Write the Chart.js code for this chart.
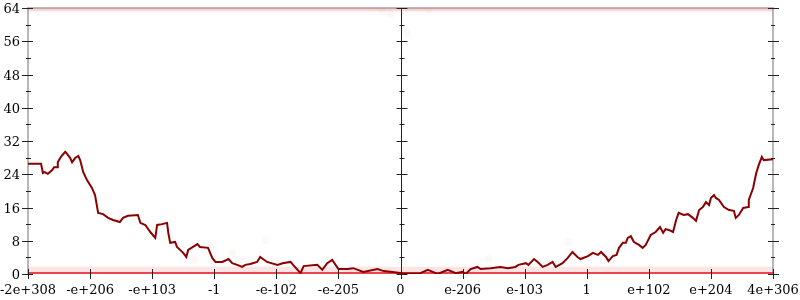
<!DOCTYPE html>
<html>
<head>
<meta charset="utf-8">
<script src="https://cdn.jsdelivr.net/npm/chart.js@4.4.1/dist/chart.umd.min.js"></script>
<style>
  html, body { margin: 0; padding: 0; background: #fff; }
  #wrap { width: 800px; height: 300px; }
</style>
</head>
<body>
<div id="wrap"><canvas id="chart"></canvas></div>
<script>
// tick labels on the x axis (one per unit, -6 .. 6)
const xLabels = ['-2e+308', '-e+206', '-e+103', '-1', '-e-102', '-e-205', '0',
  'e-206', 'e-103', '1', 'e+102', 'e+204', '4e+306']

// main curve, x in axis units, y in value units
const curveX = [-6.00, -5.79, -5.76, -5.73, -5.68, -5.61, -5.58, -5.53, -5.52, -5.47,
  -5.40, -5.37, -5.32, -5.29, -5.24, -5.19, -5.16, -5.11, -5.05, -4.97,
  -4.92, -4.87, -4.79, -4.71, -4.63, -4.52, -4.47, -4.39, -4.23, -4.19,
  -4.11, -4.03, -3.95, -3.92, -3.84, -3.76, -3.74, -3.71, -3.63, -3.60,
  -3.55, -3.50, -3.45, -3.42, -3.27, -3.23, -3.10, -3.03, -2.98, -2.87,
  -2.77, -2.71, -2.63, -2.55, -2.50, -2.42, -2.31, -2.26, -2.15, -1.98,
  -1.90, -1.77, -1.73, -1.61, -1.56, -1.34, -1.26, -1.18, -1.10, -1.00,
  -0.85, -0.76, -0.60, -0.37, -0.27, -0.13, 0.03, 0.16, 0.32, 0.44,
  0.52, 0.60, 0.76, 0.89, 1.00, 1.05, 1.13, 1.24, 1.29, 1.45,
  1.61, 1.73, 1.85, 1.90, 2.02, 2.06, 2.15, 2.21, 2.29, 2.37,
  2.45, 2.50, 2.61, 2.69, 2.77, 2.85, 2.90, 3.02, 3.10, 3.18,
  3.23, 3.31, 3.35, 3.42, 3.48, 3.52, 3.58, 3.63, 3.66, 3.71,
  3.76, 3.84, 3.90, 3.95, 4.03, 4.11, 4.18, 4.23, 4.27, 4.32,
  4.39, 4.44, 4.48, 4.56, 4.63, 4.71, 4.76, 4.81, 4.87, 4.92,
  4.97, 5.00, 5.05, 5.08, 5.13, 5.21, 5.29, 5.37, 5.40, 5.45,
  5.52, 5.60, 5.61, 5.68, 5.73, 5.77, 5.82, 5.85, 6.00]
const curveY = [26.5, 26.5, 24.3, 24.5, 24.1, 25.0, 25.7, 25.7, 26.9, 28.2,
  29.4, 28.9, 27.9, 26.9, 27.9, 28.4, 27.4, 24.5, 22.6, 20.7,
  19.0, 14.7, 14.4, 13.5, 13.0, 12.5, 13.5, 14.0, 14.2, 12.3,
  11.8, 10.1, 8.7, 11.8, 12.0, 12.3, 9.9, 7.5, 7.7, 6.5,
  5.8, 5.1, 4.1, 5.8, 7.2, 6.5, 6.3, 3.8, 2.9, 2.9,
  3.6, 2.6, 2.2, 1.7, 2.2, 2.4, 2.9, 4.1, 2.9, 2.2,
  2.6, 2.9, 2.2, 0.2, 1.9, 2.2, 1.0, 2.6, 3.4, 1.2,
  1.2, 1.4, 0.5, 1.2, 0.7, 0.5, 0.2, 0.1, 0.2, 1.0,
  0.5, 0.0, 1.0, 0.2, 0.5, 0.0, 1.2, 1.7, 1.2, 1.4,
  1.7, 1.4, 1.7, 2.2, 2.6, 2.2, 3.6, 2.9, 1.7, 2.2,
  2.9, 1.7, 2.6, 3.8, 5.3, 4.1, 3.6, 4.3, 5.1, 4.6,
  5.3, 4.1, 3.1, 4.3, 4.6, 6.3, 7.5, 7.5, 8.7, 9.1,
  7.7, 7.0, 6.3, 7.0, 9.4, 10.1, 11.3, 9.9, 10.8, 10.6,
  10.1, 13.0, 14.7, 14.2, 14.4, 13.5, 12.8, 15.4, 16.1, 17.3,
  16.6, 18.3, 19.0, 18.3, 17.8, 16.1, 15.4, 15.2, 13.5, 14.2,
  15.9, 16.1, 17.8, 20.7, 24.3, 26.2, 28.2, 27.4, 27.6]

// faint scattered samples away from the two bands
const strayX = [-3.32, -2.71, -2.55, -2.18, -0.29, -0.16, 0.11, 0.45, 1.42, 2.70]
const strayY = [3.4, 5.1, 3.4, 8.1, 63.2, 62.5, 58.0, 63.5, 3.6, 7.7]

// band levels along the bottom and the top
const lowBand = 0.9
const floorBand = 0.1
const topBand = 63.6

const pts = (xs, ys) => xs.map((x, i) => ({ x: x, y: ys[i] }))
const flat = (y) => [{ x: -6, y: y }, { x: 6, y: y }]

const axesPlugin = {
  id: 'axes',
  beforeDatasetsDraw(chart) {
    const { ctx, chartArea: a, scales: { x } } = chart
    const mid = Math.round(x.getPixelForValue(0)) + 0.5
    ctx.save()
    ctx.strokeStyle = '#b8b8b8'
    ctx.lineWidth = 2
    ctx.beginPath()
    ctx.moveTo(a.left, a.bottom)
    ctx.lineTo(a.left, a.top)
    ctx.lineTo(a.right, a.top)
    ctx.lineTo(a.right, a.bottom)
    ctx.stroke()
    ctx.strokeStyle = '#222'
    ctx.lineWidth = 1
    ctx.beginPath()
    ctx.moveTo(mid, a.top)
    ctx.lineTo(mid, a.bottom)
    ctx.stroke()
    ctx.restore()
  },
  afterDraw(chart) {
    const { ctx, chartArea: a, scales: { x, y } } = chart
    const mid = Math.round(x.getPixelForValue(0)) + 0.5
    ctx.save()
    ctx.strokeStyle = '#222'
    ctx.lineWidth = 1
    ctx.beginPath()
    for (let v = 0; v <= 64; v += 4) {
      const py = Math.round(y.getPixelForValue(v)) + 0.5
      const major = v % 8 === 0
      // left axis
      ctx.moveTo(a.left - (major ? 6 : 2), py)
      ctx.lineTo(a.left + (major ? 5 : 3), py)
      // middle axis
      ctx.moveTo(mid - (major ? 5 : 2), py)
      ctx.lineTo(mid + (major ? 6 : 3), py)
      // right axis
      ctx.moveTo(a.right - (major ? 5 : 2), py)
      ctx.lineTo(a.right + (major ? 6 : 2), py)
    }
    for (let v = -6; v <= 6; v++) {
      const px = Math.round(x.getPixelForValue(v)) + 0.5
      ctx.moveTo(px, a.bottom - 5)
      ctx.lineTo(px, a.bottom + 5)
    }
    ctx.stroke()

    // tick labels
    ctx.fillStyle = '#000'
    ctx.font = "13px 'DejaVu Serif', serif"
    ctx.textAlign = 'right'
    ctx.textBaseline = 'alphabetic'
    y.ticks.forEach((t) => {
      ctx.fillText(String(t.value), a.left - 8, Math.round(y.getPixelForValue(t.value)) + 5)
    })
    ctx.textAlign = 'center'
    x.ticks.forEach((t) => {
      ctx.fillText(xLabels[t.value + 6], x.getPixelForValue(t.value), a.bottom + 20)
    })
    ctx.restore()
  }
}

const ctx = document.getElementById('chart').getContext('2d')

new Chart(ctx, {
  type: 'scatter',
  data: {
    datasets: [
      {
        label: 'curve',
        data: pts(curveX, curveY),
        showLine: true,
        borderColor: '#8b0000',
        borderWidth: 2,
        pointRadius: 0,
        order: 0
      },
      {
        label: 'strays',
        data: pts(strayX, strayY),
        backgroundColor: 'rgba(240, 90, 90, 0.05)',
        borderWidth: 0,
        pointRadius: 4,
        order: 1
      },
      {
        label: 'floor',
        data: flat(floorBand),
        showLine: true,
        borderColor: 'rgba(232, 40, 48, 0.85)',
        borderWidth: 3,
        pointRadius: 0,
        order: 2
      },
      {
        label: 'low band',
        data: flat(lowBand),
        showLine: true,
        borderColor: 'rgba(240, 70, 70, 0.14)',
        borderWidth: 7,
        pointRadius: 0,
        order: 3
      },
      {
        label: 'top band',
        data: flat(topBand),
        showLine: true,
        borderColor: 'rgba(240, 70, 70, 0.22)',
        borderWidth: 3,
        pointRadius: 0,
        order: 4
      }
    ]
  },
  options: {
    responsive: true,
    maintainAspectRatio: false,
    animation: false,
    layout: {
      padding: { top: 8, right: 27, left: 0, bottom: 0 }
    },
    plugins: {
      legend: { display: false },
      tooltip: { enabled: false }
    },
    scales: {
      x: {
        type: 'linear',
        min: -6,
        max: 6,
        grid: { display: false },
        border: { display: false },
        afterFit: (s) => { s.height = 26 },
        ticks: { stepSize: 1, display: false }
      },
      y: {
        min: 0,
        max: 64,
        grid: { display: false },
        border: { display: false },
        afterFit: (s) => { s.width = 28 },
        ticks: { stepSize: 8, display: false }
      }
    }
  },
  plugins: [axesPlugin]
})
</script>
</body>
</html>
